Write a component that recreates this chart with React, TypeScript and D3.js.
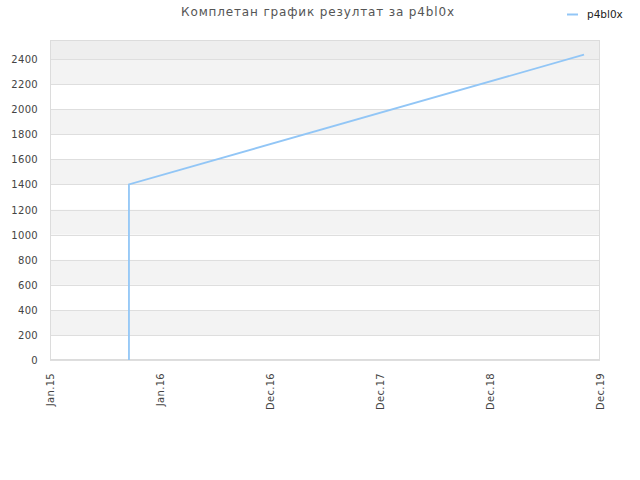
import { useEffect, useRef } from 'react'
import * as d3 from 'd3'

const TITLE = 'Комплетан график резултат за p4bl0x'
const SERIES_NAME = 'p4bl0x'
// score history: a burst of entries on one day, then a single rise to the last one
const DATES = ['2015-09-20', '2015-09-20', '2015-09-20', '2015-09-20', '2019-11-08']
const SCORES = [0, 600, 1100, 1400, 2435]
const Y_TICKS = [0, 200, 400, 600, 800, 1000, 1200, 1400, 1600, 1800, 2000, 2200, 2400]
const X_TICK_LABELS = ['Jan.15', 'Jan.16', 'Dec.16', 'Dec.17', 'Dec.18', 'Dec.19']
const X_START = '2015-01-01'
const X_END = '2019-12-31'
const Y_MAX = 2552

const MARGIN = { t: 40, r: 40, b: 120, l: 50 }
const FONT = '"DejaVu Sans", Verdana, sans-serif'

export default function App() {
  const svgRef = useRef<SVGSVGElement>(null)

  useEffect(() => {
    const svg = d3.select(svgRef.current)
    svg.selectAll('*').remove()
    const width = 640
    const height = 480
    const W = width - MARGIN.l - MARGIN.r
    const H = height - MARGIN.t - MARGIN.b
    const parse = d3.utcParse('%Y-%m-%d')
    const x0 = parse(X_START) as Date
    const x1 = parse(X_END) as Date

    const xSc = d3.scaleUtc().domain([x0, x1]).range([0, W])
    const ySc = d3.scaleLinear().domain([0, Y_MAX]).range([H, 0])

    svg.append('rect').attr('width', width).attr('height', height).attr('fill', '#fff')

    svg.append('text').attr('x', 318).attr('y', 16).attr('text-anchor', 'middle')
      .attr('font-family', FONT).attr('font-size', 12).attr('fill', '#555').attr('letter-spacing', 0.85).text(TITLE)

    const g = svg.append('g').attr('transform', `translate(${MARGIN.l},${MARGIN.t})`)

    // alternating bands
    const bounds = [...Y_TICKS, Y_MAX]
    for (let i = 0; i < bounds.length - 1; i++) {
      const top = ySc(bounds[i + 1])
      const bot = ySc(bounds[i])
      let fill = i % 2 === 1 ? '#f3f3f3' : '#ffffff'
      if (i === bounds.length - 2) fill = '#eeeeee'
      g.append('rect').attr('x', 0).attr('y', top).attr('width', W).attr('height', bot - top).attr('fill', fill)
    }
    Y_TICKS.forEach((t) => {
      g.append('line').attr('x1', 0).attr('x2', W).attr('y1', Math.round(ySc(t)) + 0.5).attr('y2', Math.round(ySc(t)) + 0.5)
        .attr('stroke', '#dedede')
      g.append('text').attr('x', -12).attr('y', ySc(t) + 4).attr('text-anchor', 'end')
        .attr('font-family', FONT).attr('font-size', 10).attr('fill', '#444').attr('letter-spacing', 0.3).text(String(t))
    })

    // x ticks every 365 days from the start
    X_TICK_LABELS.forEach((lab, i) => {
      const d = d3.utcDay.offset(x0, i * 365)
      const px = xSc(d)
      g.append('text').attr('transform', `translate(${px + 4},${H + 13}) rotate(-90)`)
        .attr('text-anchor', 'end').attr('font-family', FONT).attr('font-size', 10).attr('fill', '#444').attr('letter-spacing', 0.3).text(lab)
    })

    g.append('rect').attr('x', 0.5).attr('y', 0.5).attr('width', W - 1).attr('height', H - 1)
      .attr('fill', 'none').attr('stroke', '#dcdcdc')

    const pts = DATES.map((d, i) => ({ x: parse(d) as Date, y: SCORES[i] }))
    const line = d3.line<{ x: Date; y: number }>().x((p) => xSc(p.x)).y((p) => ySc(p.y))
    g.append('path').datum(pts).attr('d', line).attr('fill', 'none').attr('stroke', '#92c6f6').attr('stroke-width', 1.8)

    // legend
    svg.append('line').attr('x1', 567).attr('x2', 578).attr('y1', 14.5).attr('y2', 14.5).attr('stroke', '#92c6f6').attr('stroke-width', 2)
    svg.append('text').attr('x', 587).attr('y', 18).attr('font-family', FONT).attr('font-size', 10.5).attr('fill', '#222').text(SERIES_NAME)
  }, [])

  return (
    <div style={{ position: 'fixed', left: 0, top: 0, width: 640, height: 480 }}>
      <svg ref={svgRef} width={640} height={480} style={{ display: 'block' }} />
    </div>
  )
}
